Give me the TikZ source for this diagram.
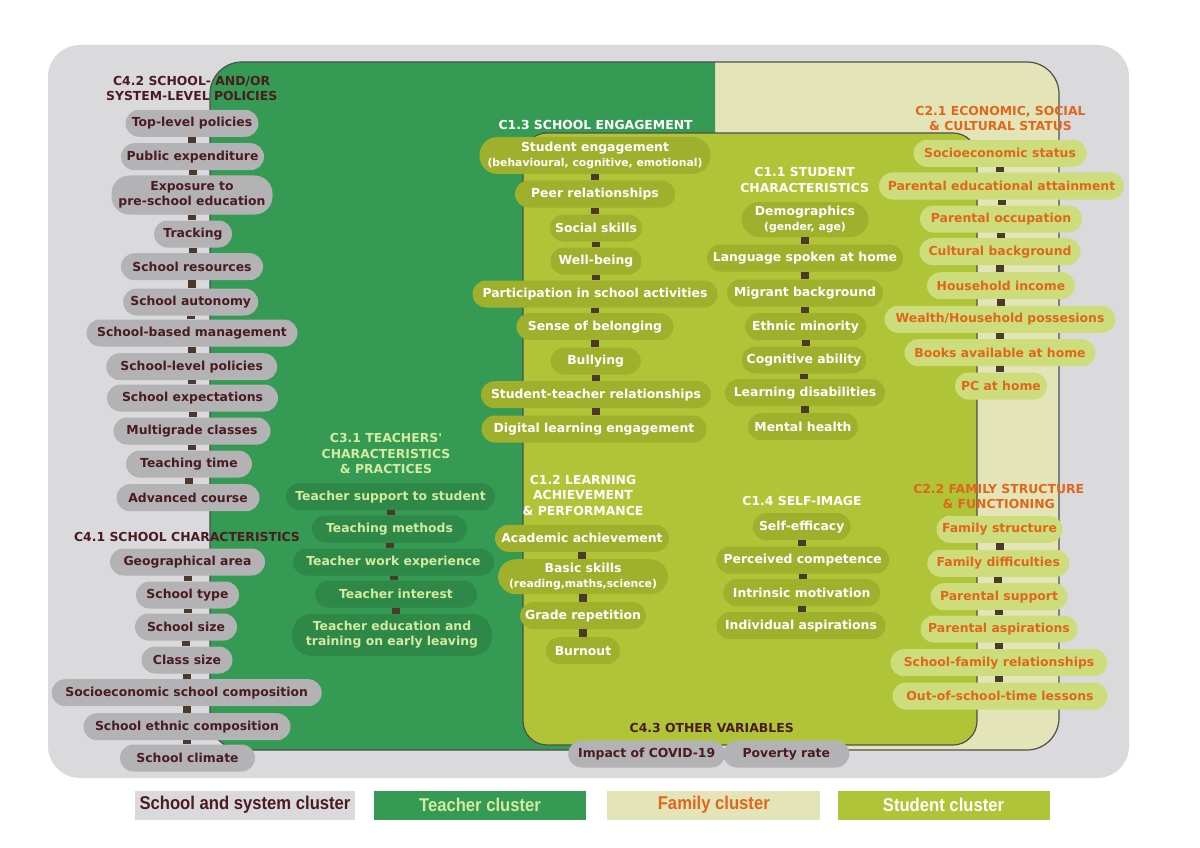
\documentclass[tikz,border=0pt]{standalone}
\usepackage{fontspec}
\newfontfamily\dvfont{DejaVu Sans}
\newfontfamily\legfamily{Liberation Sans}[FakeStretch=0.9]
\newcommand\NodeFont{\dvfont\bfseries\fontsize{12.4}{15}\selectfont}
\newcommand\HeadFont{\dvfont\bfseries\fontsize{12.4}{15.6}\selectfont}
\newcommand\SubFont{\dvfont\bfseries\fontsize{10.8}{12}\selectfont}
\newcommand\LegFont{\legfamily\bfseries\fontsize{18.5}{20}\selectfont}
\definecolor{outergray}{HTML}{DADADD}
\definecolor{beige}{HTML}{E3E5B9}
\definecolor{teachgreen}{HTML}{359A53}
\definecolor{studgreen}{HTML}{B0C437}
\definecolor{schoolnode}{HTML}{B3B3B5}
\definecolor{teachnode}{HTML}{2E8847}
\definecolor{studnode}{HTML}{9FB02D}
\definecolor{famnode}{HTML}{CDDD7C}
\definecolor{maroontext}{HTML}{4A1B20}
\definecolor{teachtext}{HTML}{D4E9A1}
\definecolor{famtext}{HTML}{E0661B}
\definecolor{linkcol}{HTML}{4B3A2C}
\definecolor{edgecol}{HTML}{4F4F4F}
\begin{document}
\begin{tikzpicture}[x=1pt,y=-1pt,
  pill/.style={rounded corners=13.5pt, minimum height=27pt, inner xsep=5pt, inner ysep=2pt, align=center, font=\NodeFont},
  tall/.style={rounded corners=18pt, minimum height=#1},
  schbox/.style={pill, fill=schoolnode, text=maroontext},
  teabox/.style={pill, fill=teachnode, text=teachtext},
  stubox/.style={pill, fill=studnode, text=white},
  fambox/.style={pill, fill=famnode, text=famtext},
  hdg/.style={align=center, font=\HeadFont, inner sep=0pt},
  lnk/.style={draw=linkcol, line width=8pt},
  legbx/.style={minimum height=29pt, inner sep=0pt, font=\LegFont},
  edge line/.style={draw=edgecol, line width=1.2pt}
]
\useasboundingbox (0,0) rectangle (1200,848);
\fill[white] (0,0) rectangle (1200,848);
% outer school & system cluster
\fill[outergray, rounded corners=32pt] (48,45) rectangle (1129,778);
% family (beige) + teacher (green) area
\fill[beige, rounded corners=32pt] (210,62) rectangle (1059,750);
\begin{scope}
  \clip (0,0) rectangle (715,848);
  \fill[teachgreen, rounded corners=32pt] (210,62) rectangle (1059,750);
\end{scope}
\draw[edge line, rounded corners=32pt] (210,62) rectangle (1059,750);
% student area
\fill[studgreen, rounded corners=24pt] (523,133) rectangle (977,745);
\draw[edge line, rounded corners=24pt] (523,133) rectangle (977,745);

% ---------- C4.2 / C4.1 school nodes ----------
\node[hdg, text=maroontext] (h42) at (191.7,88.5) {C4.2 SCHOOL- AND/OR\\SYSTEM-LEVEL POLICIES};
\node[schbox, minimum width=133pt] (s1) at (192,123.3) {Top-level policies};
\node[schbox, minimum width=143pt] (s2) at (192.5,156.7) {Public expenditure};
\node[schbox, tall=39pt, minimum width=161pt] (s3) at (192,195) {Exposure to\\pre-school education};
\node[schbox, minimum width=78pt] (s4) at (193,234) {Tracking};
\node[schbox, minimum width=142pt] (s5) at (192,266.7) {School resources};
\node[schbox, minimum width=135pt] (s6) at (190.7,302) {School autonomy};
\node[schbox, minimum width=211pt] (s7) at (192,333) {School-based management};
\node[schbox, minimum width=171pt] (s8) at (191.7,366.7) {School-level policies};
\node[schbox, minimum width=171pt] (s9) at (192.5,398) {School expectations};
\node[schbox, minimum width=157pt] (s10) at (192,431) {Multigrade classes};
\node[schbox, minimum width=126pt] (s11) at (189,464) {Teaching time};
\node[schbox, minimum width=143pt] (s12) at (188,497.7) {Advanced course};
\node[hdg, text=maroontext] (h41) at (187,536.7) {C4.1 SCHOOL CHARACTERISTICS};
\node[schbox, minimum width=155pt] (s13) at (187.5,562) {Geographical area};
\node[schbox, minimum width=103pt] (s14) at (187.5,595) {School type};
\node[schbox, minimum width=102pt] (s15) at (186,627) {School size};
\node[schbox, minimum width=91pt] (s16) at (187,660) {Class size};
\node[schbox, minimum width=270pt] (s17) at (186.7,692.7) {Socioeconomic school composition};
\node[schbox, minimum width=207pt] (s18) at (187,726.7) {School ethnic composition};
\node[schbox, minimum width=135pt] (s19) at (187.5,758) {School climate};

% ---------- C3.1 teacher nodes ----------
\node[hdg, text=teachtext] (h31) at (386,453.7) {C3.1 TEACHERS'\\CHARACTERISTICS\\\& PRACTICES};
\node[teabox, minimum width=209pt] (t1) at (390.5,496.7) {Teacher support to student};
\node[teabox, minimum width=155pt] (t2) at (389.5,529) {Teaching methods};
\node[teabox, minimum width=201pt] (t3) at (393.5,562) {Teacher work experience};
\node[teabox, minimum width=162pt] (t4) at (396,594) {Teacher interest};
\node[teabox, tall=42pt, rounded corners=20pt, minimum width=200pt] (t5) at (392,635) {Teacher education and\\training on early leaving};

% ---------- C1.3 school engagement ----------
\node[hdg, text=white] (h13) at (595.6,125) {C1.3 SCHOOL ENGAGEMENT};
\node[stubox, tall=37pt, minimum width=231pt] (u1) at (595,155.5) {Student engagement\\{\SubFont(behavioural, cognitive, emotional)}};
\node[stubox, minimum width=160pt] (u2) at (595,194) {Peer relationships};
\node[stubox, minimum width=91pt] (u3) at (596,228) {Social skills};
\node[stubox, minimum width=91pt] (u4) at (596,261) {Well-being};
\node[stubox, minimum width=245pt] (u5) at (595,294) {Participation in school activities};
\node[stubox, minimum width=157pt] (u6) at (595,326.7) {Sense of belonging};
\node[stubox, minimum width=90pt] (u7) at (595.7,361) {Bullying};
\node[stubox, minimum width=230pt] (u8) at (596,394.7) {Student-teacher relationships};
\node[stubox, minimum width=225pt] (u9) at (594,429) {Digital learning engagement};

% ---------- C1.1 student characteristics ----------
\node[hdg, text=white] (h11) at (804.7,179.7) {C1.1 STUDENT\\CHARACTERISTICS};
\node[stubox, tall=35pt, minimum width=127pt] (v1) at (805,219.5) {Demographics\\{\SubFont(gender, age)}};
\node[stubox, minimum width=196pt] (v2) at (805,258) {Language spoken at home};
\node[stubox, minimum width=156pt] (v3) at (805,293) {Migrant background};
\node[stubox, minimum width=121pt] (v4) at (805.5,326.7) {Ethnic minority};
\node[stubox, minimum width=122pt] (v5) at (804,360) {Cognitive ability};
\node[stubox, minimum width=160pt] (v6) at (805,392.7) {Learning disabilities};
\node[stubox, minimum width=110pt] (v7) at (803,426.7) {Mental health};

% ---------- C2.1 family status ----------
\node[hdg, text=famtext] (h21) at (1000.5,118.3) {C2.1 ECONOMIC, SOCIAL\\\& CULTURAL STATUS};
\node[fambox, minimum width=173pt] (f1) at (1000,153.3) {Socioeconomic status};
\node[fambox, minimum width=245pt] (f2) at (1001.5,186) {Parental educational attainment};
\node[fambox, minimum width=162pt] (f3) at (1001,219) {Parental occupation};
\node[fambox, minimum width=161pt] (f4) at (1000,251.7) {Cultural background};
\node[fambox, minimum width=148pt] (f5) at (1001,285.7) {Household income};
\node[fambox, minimum width=231pt] (f6) at (1000,319.3) {Wealth/Household possesions};
\node[fambox, minimum width=191pt] (f7) at (1000,352.7) {Books available at home};
\node[fambox, minimum width=92pt] (f8) at (1001,386) {PC at home};

% ---------- C1.2 learning achievement ----------
\node[hdg, text=white] (h12) at (583,495.2) {C1.2 LEARNING\\ACHIEVEMENT\\\& PERFORMANCE};
\node[stubox, minimum width=174pt] (w1) at (582,538.3) {Academic achievement};
\node[stubox, tall=35pt, minimum width=170pt] (w2) at (583,576.7) {Basic skills\\{\SubFont(reading,maths,science)}};
\node[stubox, minimum width=123pt] (w3) at (583,615.7) {Grade repetition};
\node[stubox, minimum width=74pt] (w4) at (583,650.7) {Burnout};

% ---------- C1.4 self-image ----------
\node[hdg, text=white] (h14) at (802,500.7) {C1.4 SELF-IMAGE};
\node[stubox, minimum width=98pt] (x1) at (801.7,526.7) {Self-efficacy};
\node[stubox, minimum width=173pt] (x2) at (802.7,560) {Perceived competence};
\node[stubox, minimum width=157pt] (x3) at (801.7,592.7) {Intrinsic motivation};
\node[stubox, minimum width=169pt] (x4) at (801,625.7) {Individual aspirations};

% ---------- C2.2 family structure ----------
\node[hdg, text=famtext] (h22) at (998.7,496.3) {C2.2 FAMILY STRUCTURE\\\& FUNCTIONING};
\node[fambox, minimum width=126pt] (g1) at (999.5,529.3) {Family structure};
\node[fambox, minimum width=142pt] (g2) at (998.3,563.3) {Family difficulties};
\node[fambox, minimum width=137pt] (g3) at (999,596.7) {Parental support};
\node[fambox, minimum width=157pt] (g4) at (999,629) {Parental aspirations};
\node[fambox, minimum width=217pt] (g5) at (999,662.7) {School-family relationships};
\node[fambox, minimum width=215pt] (g6) at (1000,696) {Out-of-school-time lessons};

% ---------- C4.3 other variables ----------
\node[hdg, text=maroontext] (h43) at (711.7,728.3) {C4.3 OTHER VARIABLES};
\node[schbox, minimum width=126pt] (o2) at (786.3,754) {Poverty rate};
\node[schbox, minimum width=157pt] (o1) at (646.7,754) {Impact of COVID-19};

% ---------- connectors ----------
\foreach \a/\b in {s1/s2,s2/s3,s3/s4,s4/s5,s5/s6,s6/s7,s7/s8,s8/s9,s9/s10,s10/s11,s11/s12,
                   s13/s14,s14/s15,s15/s16,s16/s17,s17/s18,s18/s19,
                   t1/t2,t2/t3,t3/t4,t4/t5,
                   u1/u2,u2/u3,u3/u4,u4/u5,u5/u6,u6/u7,u7/u8,u8/u9,
                   v1/v2,v2/v3,v3/v4,v4/v5,v5/v6,v6/v7,
                   f1/f2,f2/f3,f3/f4,f4/f5,f5/f6,f6/f7,f7/f8,
                   w1/w2,w2/w3,w3/w4,
                   x1/x2,x2/x3,x3/x4,
                   g1/g2,g2/g3,g3/g4,g4/g5,g5/g6}
  \draw[lnk] (\a.south) -- (\a.south |- \b.north);

% ---------- legend ----------
\node[legbx, fill=outergray, text=maroontext, minimum width=220pt] (l1) at (245,805) {School and system cluster};
\node[legbx, fill=teachgreen, text=teachtext, minimum width=212pt] (l2) at (480,805) {Teacher cluster};
\node[legbx, fill=beige, text=famtext, minimum width=213pt] (l3) at (713.8,805) {Family cluster};
\node[legbx, fill=studgreen, text=white, minimum width=212pt] (l4) at (943.5,805) {Student cluster};
\end{tikzpicture}
\end{document}
